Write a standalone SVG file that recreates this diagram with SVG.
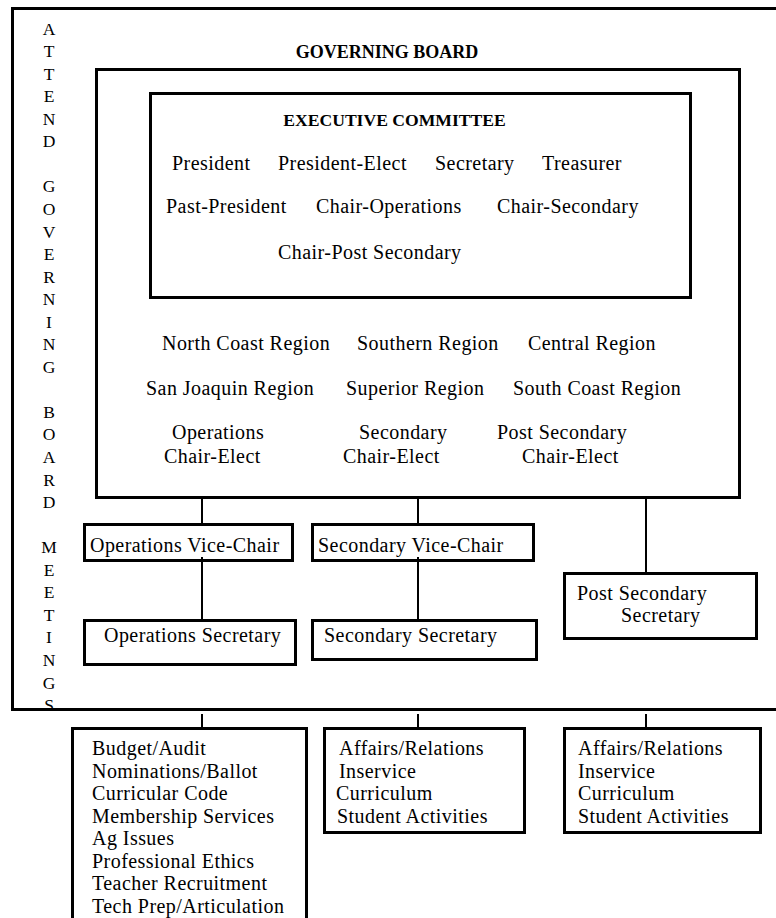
<svg xmlns="http://www.w3.org/2000/svg" width="776" height="918" viewBox="0 0 776 918">
<style>
text{font-family:"Liberation Serif","Times New Roman",serif;fill:#000}
.b{fill:none;stroke:#000;stroke-width:3}
.c{stroke:#000;stroke-width:2;fill:none}
.t{font-size:20px;letter-spacing:0.45px}
.h{font-size:18px;font-weight:bold;text-anchor:middle}
.v{font-size:17.5px;text-anchor:middle}
</style>
<defs>
<clipPath id="clipv"><rect x="0" y="0" width="776" height="708"/></clipPath>
</defs>
<rect width="776" height="918" fill="#fff"/>
<g id="outer">
<rect class="b" x="12.5" y="8.5" width="800" height="701"/>
<g clip-path="url(#clipv)" class="v">
<text x="49" y="34.5">A</text>
<text x="49" y="57">T</text>
<text x="49" y="79.6">T</text>
<text x="49" y="102.2">E</text>
<text x="49" y="124.7">N</text>
<text x="49" y="147.3">D</text>
<text x="49" y="192.4">G</text>
<text x="49" y="214.9">O</text>
<text x="49" y="237.5">V</text>
<text x="49" y="260">E</text>
<text x="49" y="282.6">R</text>
<text x="49" y="305.1">N</text>
<text x="49" y="327.7">I</text>
<text x="49" y="350.2">N</text>
<text x="49" y="372.8">G</text>
<text x="49" y="417.9">B</text>
<text x="49" y="440.4">O</text>
<text x="49" y="463">A</text>
<text x="49" y="485.5">R</text>
<text x="49" y="508.1">D</text>
<text x="49" y="553.2">M</text>
<text x="49" y="575.7">E</text>
<text x="49" y="598.3">E</text>
<text x="49" y="620.8">T</text>
<text x="49" y="643.4">I</text>
<text x="49" y="665.9">N</text>
<text x="49" y="688.5">G</text>
<text x="49" y="711">S</text>
</g>
</g>
<g id="governing-board">
<text class="h" x="387" y="58">GOVERNING BOARD</text>
<rect class="b" x="96.5" y="69.5" width="643" height="428"/>
<text class="t" x="162" y="350">North Coast Region</text>
<text class="t" x="357" y="350">Southern Region</text>
<text class="t" x="528" y="350">Central Region</text>
<text class="t" x="146" y="395">San Joaquin Region</text>
<text class="t" x="346" y="395">Superior Region</text>
<text class="t" x="513" y="395">South Coast Region</text>
<text class="t" x="172" y="439">Operations</text>
<text class="t" x="164" y="463">Chair-Elect</text>
<text class="t" x="359" y="439">Secondary</text>
<text class="t" x="343" y="463">Chair-Elect</text>
<text class="t" x="497" y="439">Post Secondary</text>
<text class="t" x="522" y="463">Chair-Elect</text>
</g>
<g id="executive-committee">
<rect class="b" x="150.5" y="93.5" width="540" height="204"/>
<text class="h" x="394.5" y="126" style="font-size:17.6px">EXECUTIVE COMMITTEE</text>
<text class="t" x="172" y="170">President</text>
<text class="t" x="278" y="170">President-Elect</text>
<text class="t" x="435" y="170">Secretary</text>
<text class="t" x="542" y="170">Treasurer</text>
<text class="t" x="166" y="213">Past-President</text>
<text class="t" x="316" y="213">Chair-Operations</text>
<text class="t" x="497" y="213">Chair-Secondary</text>
<text class="t" x="278" y="259">Chair-Post Secondary</text>
</g>
<g id="connectors">
<line class="c" x1="202" y1="497" x2="202" y2="524"/>
<line class="c" x1="418" y1="497" x2="418" y2="524"/>
<line class="c" x1="646" y1="497" x2="646" y2="573"/>
<line class="c" x1="202" y1="557" x2="202" y2="620"/>
<line class="c" x1="418" y1="557" x2="418" y2="620"/>
<line class="c" x1="202" y1="714" x2="202" y2="728"/>
<line class="c" x1="418" y1="714" x2="418" y2="728"/>
<line class="c" x1="646" y1="714" x2="646" y2="728"/>
</g>
<g id="ops-vice-chair">
<rect class="b" x="84.5" y="524.5" width="208" height="36"/>
<text class="t" x="90" y="552">Operations Vice-Chair</text>
</g>
<g id="sec-vice-chair">
<rect class="b" x="312.5" y="524.5" width="221" height="36"/>
<text class="t" x="318" y="552">Secondary Vice-Chair</text>
</g>
<g id="ops-secretary">
<rect class="b" x="84.5" y="620.5" width="211" height="44"/>
<text class="t" x="104" y="642">Operations Secretary</text>
</g>
<g id="sec-secretary">
<rect class="b" x="312.5" y="620.5" width="224" height="39"/>
<text class="t" x="324" y="642">Secondary Secretary</text>
</g>
<g id="post-sec-secretary">
<rect class="b" x="564.5" y="573.5" width="192" height="65"/>
<text class="t" x="577" y="600">Post Secondary</text>
<text class="t" x="621" y="622">Secretary</text>
</g>
<g id="ops-committees">
<rect class="b" x="72.5" y="728.5" width="234" height="220"/>
<text class="t" x="92" y="755">Budget/Audit</text>
<text class="t" x="92" y="778">Nominations/Ballot</text>
<text class="t" x="92" y="800">Curricular Code</text>
<text class="t" x="92" y="823">Membership Services</text>
<text class="t" x="92" y="845">Ag Issues</text>
<text class="t" x="92" y="868">Professional Ethics</text>
<text class="t" x="92" y="890">Teacher Recruitment</text>
<text class="t" x="92" y="913">Tech Prep/Articulation</text>
</g>
<g id="sec-committees">
<rect class="b" x="324.5" y="728.5" width="200" height="104"/>
<text class="t" x="339" y="755">Affairs/Relations</text>
<text class="t" x="339" y="778">Inservice</text>
<text class="t" x="336" y="800">Curriculum</text>
<text class="t" x="337" y="823">Student Activities</text>
</g>
<g id="post-sec-committees">
<rect class="b" x="564.5" y="728.5" width="196" height="104"/>
<text class="t" x="578" y="755">Affairs/Relations</text>
<text class="t" x="578" y="778">Inservice</text>
<text class="t" x="578" y="800">Curriculum</text>
<text class="t" x="578" y="823">Student Activities</text>
</g>
</svg>
